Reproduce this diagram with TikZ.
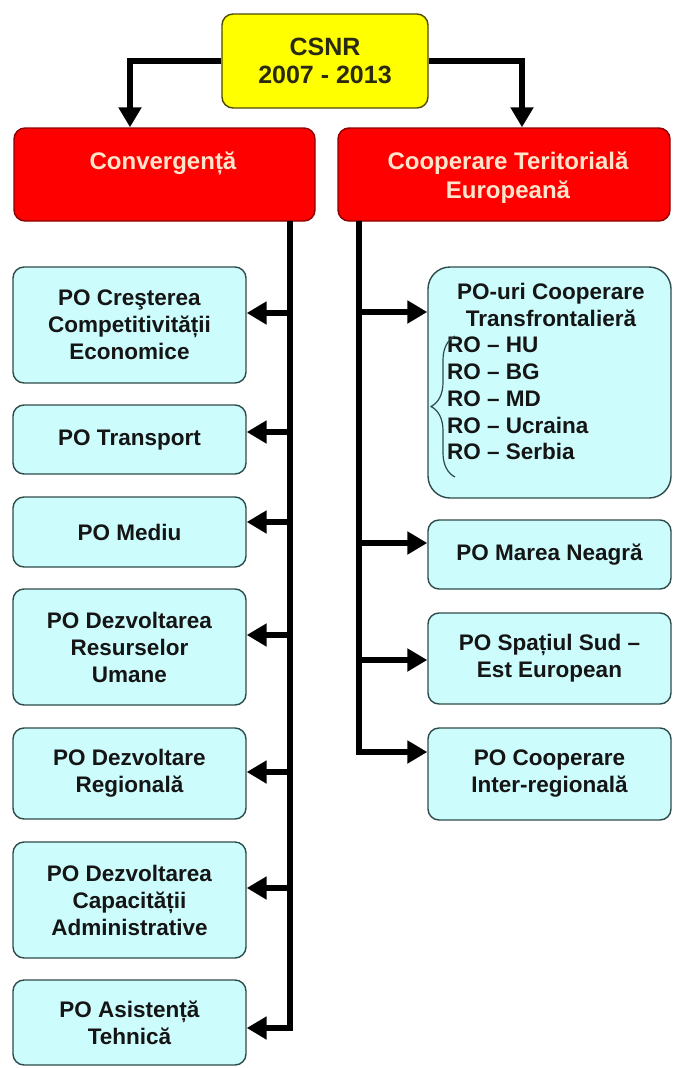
\documentclass[tikz,border=0pt]{standalone}
\usepackage{fontspec}
\setmainfont{Liberation Sans}
\usetikzlibrary{arrows.meta,decorations.pathreplacing}

\definecolor{yfill}{HTML}{FFFF00}
\definecolor{yedge}{HTML}{4D4A00}
\definecolor{ytext}{HTML}{2A2A10}
\definecolor{rfill}{HTML}{FF0000}
\definecolor{redge}{HTML}{8C0000}
\definecolor{rtext}{HTML}{FFE4CC}
\definecolor{bfill}{HTML}{CCFCFC}
\definecolor{bedge}{HTML}{2F4A4A}
\definecolor{btext}{HTML}{151515}

\begin{document}
\begin{tikzpicture}[x=1pt,y=-1pt,
  boxbase/.style={rectangle, rounded corners=11pt, line width=1.4pt, inner sep=0pt, align=center},
  topbox/.style={boxbase, fill=yfill, draw=yedge, text=ytext,
    font=\bfseries\fontsize{25}{28}\selectfont},
  mainbox/.style={boxbase, fill=rfill, draw=redge},
  maintext/.style={inner sep=0pt, align=center, text=rtext,
    font=\bfseries\fontsize{24}{29}\selectfont},
  pobox/.style={boxbase, fill=bfill, draw=bedge, text=btext,
    font=\bfseries\fontsize{22.5}{27}\selectfont},
  lefttbox/.style={pobox, minimum width=233pt},
  rightbox/.style={pobox, minimum width=243pt},
  potext/.style={inner sep=0pt, text=btext,
    font=\bfseries\fontsize{22.5}{26.8}\selectfont},
  wire/.style={line width=6.5pt, line join=miter},
  arrow/.style={wire, -{Triangle[length=20pt,width=22pt]}},
  bracestyle/.style={draw=bedge, line width=1.2pt,
    decorate, decoration={brace, amplitude=24pt}}
]
\useasboundingbox (0,0) rectangle (673,1068);

% top level
\node[topbox, minimum width=206pt, minimum height=94pt] (csnr) at (325,61) {CSNR\\2007 - 2013};

% the two objectives
\node[mainbox, minimum width=301pt, minimum height=93pt] (conv) at (164.5,174.5) {};
\node[maintext] (convt) at (163,163) {Convergență};
\node[mainbox, minimum width=332pt, minimum height=93pt] (cte) at (504,174.5) {};
\node[maintext] (ctet) at (508,178) {Cooperare Teritorială\\Europeană};

% operational programmes, convergence
\node[lefttbox, minimum height=116pt] (b1) at (129.5,325) {PO Creşterea\\Competitivității\\Economice};
\node[lefttbox, minimum height=69pt]  (b2) at (129.5,439.5) {PO Transport};
\node[lefttbox, minimum height=70pt]  (b3) at (129.5,532) {PO Mediu};
\node[lefttbox, minimum height=116pt] (b4) at (129.5,647) {PO Dezvoltarea\\Resurselor\\Umane};
\node[lefttbox, minimum height=91pt]  (b5) at (129.5,773.5) {PO Dezvoltare\\Regională};
\node[lefttbox, minimum height=116pt] (b6) at (129.5,900) {PO Dezvoltarea\\Capacității\\Administrative};
\node[lefttbox, minimum height=85pt]  (b7) at (129.5,1022.5) {PO Asistență\\Tehnică};

% operational programmes, territorial cooperation
\node[rightbox, rounded corners=22pt, minimum height=231pt] (c1) at (549.5,382.5) {};
\node[potext, align=center] (c1h) at (551,305) {PO-uri Cooperare\\Transfrontalieră};
\node[potext, align=left, anchor=west] (c1l) at (447,398.5) {RO – HU\\RO – BG\\RO – MD\\RO – Ucraina\\RO – Serbia};
\node[rightbox, minimum height=69pt] (c2) at (549.5,554.5) {PO Marea Neagră};
\node[rightbox, minimum height=91pt] (c3) at (549.5,658.5) {PO Spațiul Sud –\\Est European};
\node[rightbox, minimum height=92pt] (c4) at (549.5,774) {PO Cooperare\\Inter-regională};

% brace in front of the cross-border list
\coordinate (brtop) at (455,336);
\coordinate (brbot) at (455,477);
\draw[bracestyle] (brbot) -- (brtop);

% connectors from the top box
\coordinate (jl) at (130,0);
\coordinate (jr) at (522,0);
\draw[arrow] (csnr.west) -| (jl |- conv.north);
\draw[arrow] (csnr.east) -| (jr |- cte.north);

% trunk lines and arrow rows
\coordinate (tl) at (290,0);
\coordinate (tr) at (359,0);
\coordinate (r1) at (0,313);
\coordinate (r2) at (0,432);
\coordinate (r3) at (0,522);
\coordinate (r4) at (0,635);
\coordinate (r5) at (0,772);
\coordinate (r6) at (0,888);
\coordinate (r7) at (0,1028);
\coordinate (s1) at (0,312);
\coordinate (s2) at (0,543);
\coordinate (s3) at (0,660);
\coordinate (s4) at (0,752);

\draw[arrow] ([yshift=0.7pt]tl |- conv.south) -- (tl |- r7) -- (b7.east |- r7);
\foreach \b/\r in {b1/r1,b2/r2,b3/r3,b4/r4,b5/r5,b6/r6}
  \draw[arrow] (tl |- \r) -- (\b.east |- \r);

\draw[arrow] ([yshift=0.7pt]tr |- cte.south) -- (tr |- s4) -- (c4.west |- s4);
\foreach \c/\s in {c1/s1,c2/s2,c3/s3}
  \draw[arrow] (tr |- \s) -- (\c.west |- \s);
\end{tikzpicture}
\end{document}
